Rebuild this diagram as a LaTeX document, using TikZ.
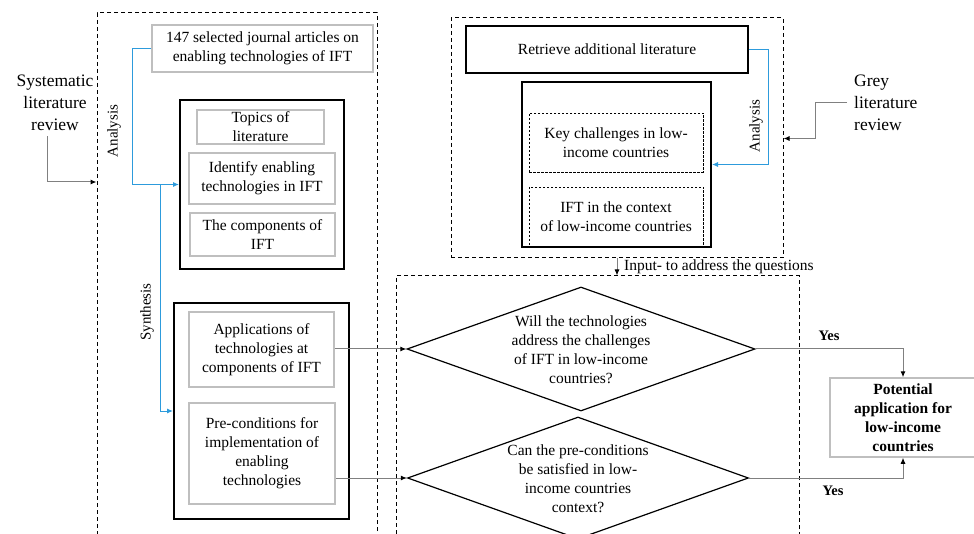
\documentclass[tikz,border=0pt]{standalone}
\usepackage{fontspec}
\setmainfont{Liberation Serif}
\usetikzlibrary{arrows.meta,shapes.geometric}
\definecolor{bl}{RGB}{45,155,220}
\definecolor{lg}{RGB}{191,191,191}
\definecolor{dg}{RGB}{128,128,128}
\begin{document}
\begin{tikzpicture}[x=1pt,y=-1pt,
 every node/.style={font=\fontsize{15.5}{19}\selectfont, align=center, inner sep=0pt},
 gbox/.style={draw=lg, line width=1.5pt},
 kbox/.style={draw=black, line width=2pt},
 dbox/.style={draw=black, line width=1pt, dash pattern=on 4pt off 3pt},
 fbox/.style={draw=black, line width=0.9pt, dash pattern=on 2.5pt off 1.5pt},
 gconn/.style={draw=dg, line width=1pt, -{Latex[length=6pt,width=5pt,color=black]}},
 bconn/.style={draw=bl, line width=1pt, -{Latex[length=6pt,width=5pt]}},
 lbl/.style={font=\fontsize{15}{18}\selectfont},
 side/.style={font=\fontsize{17.5}{22}\selectfont},
 yes/.style={font=\fontsize{14.5}{18}\selectfont\bfseries}
 ]
\useasboundingbox (0,0) rectangle (974,534);
\clip (0,0) rectangle (974,534);

% outer dashed regions
\node[dbox, minimum width=280pt, minimum height=532pt] (lbox) at (237,279) {};
\node[dbox, minimum width=332pt, minimum height=240pt] (trbox) at (617,138) {};
\node[dbox, minimum width=403pt, minimum height=270pt] (bbox) at (597.5,411) {};

% left column
\node[gbox, minimum width=221pt, minimum height=47pt] (art) at (262.5,48.5)
  {147 selected journal articles on\\enabling technologies of IFT};
\node[kbox, minimum width=164pt, minimum height=169pt] (big1) at (262,184.5) {};
\node[gbox, minimum width=127pt, minimum height=34pt] (topics) at (260.5,127) {Topics of\\literature};
\node[gbox, minimum width=146pt, minimum height=51pt] (ident) at (262,178.5) {Identify enabling\\technologies in IFT};
\node[gbox, minimum width=145pt, minimum height=43pt] (comp) at (262.5,234.5) {The components of\\IFT};

\node[kbox, minimum width=175pt, minimum height=216pt] (big2) at (261.5,411) {};
\node[gbox, minimum width=145pt, minimum height=75pt] (appl) at (261.5,349.5)
  {Applications of\\technologies at\\components of IFT};
\node[gbox, minimum width=146pt, minimum height=101pt] (prec) at (262,453.5)
  {Pre-conditions for\\implementation of\\enabling\\technologies};

% top right
\node[draw=black, line width=1.2pt, minimum width=282pt, minimum height=47pt] (retr) at (607,49.5)
  {Retrieve additional literature};
\node[kbox, minimum width=189pt, minimum height=165pt] (big3) at (616.5,164.5) {};
\node[fbox, minimum width=174pt, minimum height=59pt] (key) at (616,142.5)
  {Key challenges in low-\\income countries};
\node[fbox, minimum width=174pt, minimum height=60pt] (ctx) at (616,217)
  {IFT in the context\\of low-income countries};

% decisions
\node[diamond, draw=black, line width=1.2pt, minimum width=348pt, minimum height=124pt] (d1) at (581,349) {};
\node (d1t) at (581,350) {Will the technologies\\address the challenges\\of IFT in low-income\\countries?};
\node[diamond, draw=black, line width=1.2pt, minimum width=341pt, minimum height=122pt] (d2) at (578,478) {};
\node (d2t) at (578,478.5) {Can the pre-conditions\\be satisfied in low-\\income countries\\context?};

\node[gbox, minimum width=146pt, minimum height=79pt, font=\fontsize{15.5}{19}\selectfont\bfseries] (pot) at (903,417.5)
  {Potential\\application for\\low-income\\countries};

% side labels
\node[side] (sys) at (55,103) {Systematic\\literature\\review};
\node[side, align=left, anchor=west] (grey) at (854,103) {Grey\\literature\\review};

% connectors
\draw[gconn] ([xshift=-8pt,yshift=-5pt]sys.south) |- (lbox.west |- 0,182);
\draw[gconn] ([xshift=-7pt]grey.west) -- ++(-32,0) |- (trbox.east |- 0,138.5);

\draw[bconn] (art.west) -- ++(-19,0) |- (big1.west);
\coordinate (syn) at (160,0 |- big1.west);
\draw[bconn] (syn) |- (big2.west);
\draw[bconn] (retr.east) -- ++(20,0) |- (big3.east);

\node[lbl, rotate=90] (an1) at (114,131) {Analysis};
\node[lbl, rotate=90] (syl) at (147,312) {Synthesis};
\node[lbl, rotate=90] (an2) at (756,126) {Analysis};

\draw[gconn] (trbox.south) -- (trbox.south |- bbox.north);
\node[anchor=west] (inp) at (624,267) {Input- to address the questions};

\draw[gconn] (appl.east |- d1.west) -- (d1.west);
\draw[gconn] (prec.east |- d2.west) -- (d2.west);
\draw[gconn] (d1.east) -| (pot.north);
\draw[gconn] (d2.east) -| (pot.south);
\node[yes] (y1) at (829,336) {Yes};
\node[yes] (y2) at (833,491) {Yes};
\end{tikzpicture}
\end{document}
